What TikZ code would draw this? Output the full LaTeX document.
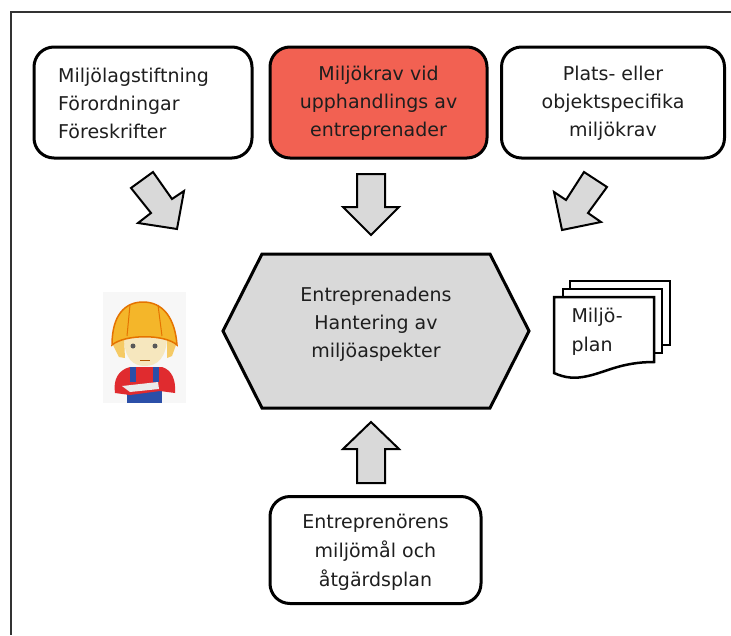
\documentclass[tikz,border=0pt]{standalone}
\usepackage{fontspec}
\setmainfont{DejaVu Sans}
\definecolor{kravred}{HTML}{F26152}
\definecolor{blockgray}{HTML}{D9D9D9}
\definecolor{inktext}{HTML}{1E1E1E}
\definecolor{helmet}{HTML}{F4B62A}
\definecolor{skin}{HTML}{F6E7BE}
\definecolor{shirt}{HTML}{E02B2F}
\definecolor{denim}{HTML}{2B4FA8}
\tikzset{
  kravbox/.style={draw=black,line width=3pt,rounded corners=20pt,minimum height=111pt},
  kravtext/.style={text=inktext,font=\fontsize{19}{28}\selectfont,align=center},
  blockarrow/.style={draw=black,line width=2pt,fill=blockgray,line join=miter},
  plantext/.style={text=inktext,font=\fontsize{19}{29.5}\selectfont,align=left,anchor=west},
  sheet/.style={draw=black,line width=2.5pt,fill=white}
}
\begin{document}
\begin{tikzpicture}[x=1pt,y=-1pt]
  \useasboundingbox (0,0) rectangle (731,635);
  % frame, only top and left
  \draw[line width=1.5pt,black!80] (731,12) -- (11,12) -- (11,635);
  % boxes
  \node[kravbox,minimum width=218pt] (lagar) at (143,102.5) {};
  \node[plantext,font=\fontsize{19}{28}\selectfont] (lagartext) at (54.7,103.5) {Miljölagstiftning\\Förordningar\\Föreskrifter};
  \node[kravbox,fill=kravred,minimum width=217pt] (upphandling) at (378.5,102.5) {};
  \node[kravtext] (upphandlingtext) at (378.5,103.5) {Miljökrav vid\\upphandlings av\\entreprenader};
  \node[kravbox,minimum width=223pt] (platskrav) at (613,102.5) {};
  \node[kravtext] (platskravtext) at (613,103.5) {Plats- eller\\objektspecifika\\miljökrav};
  \node[kravbox,minimum width=211pt,minimum height=107pt] (egenmal) at (375.5,550) {};
  \node[kravtext,font=\fontsize{19}{29}\selectfont] (egenmaltext) at (375.5,552.5) {Entreprenörens\\miljömål och\\åtgärdsplan};
  % hexagon
  \draw[line width=3pt,fill=blockgray,line join=miter] (262,254) -- (490,254) -- (529,331) -- (490,408) -- (262,408) -- (223,331) -- cycle;
  \node[kravtext] (hantering) at (376,324.5) {Entreprenadens\\Hantering av\\miljöaspekter};
  % block arrows
  \draw[blockarrow] (153,172) -- (131,188) -- (151,213) -- (138,223) -- (177,229) -- (184,191) -- (172,199) -- cycle;
  \draw[blockarrow] (357,174) -- (385,174) -- (385,207) -- (399,207) -- (371,235) -- (343,207) -- (357,207) -- cycle;
  \draw[blockarrow] (584,172) -- (607,187) -- (588,213) -- (601,222) -- (562,230) -- (554,192) -- (566,200) -- cycle;
  \draw[blockarrow] (357,483) -- (385,483) -- (385,449) -- (399,449) -- (371,422) -- (343,449) -- (357,449) -- cycle;
  % document stack
  \draw[sheet] (570,281) rectangle (670,345);
  \draw[sheet] (563,289) rectangle (662,353);
  \draw[sheet] (554,297) -- (654,297) -- (654,362) .. controls (622,362) and (606,372) .. (588,376) .. controls (575,379) and (565,378) .. (554,373) -- cycle;
  \node[plantext] (miljoplan) at (568,332) {Miljö-\\plan};
  % worker
  \fill[black!3] (103,292) rectangle (186,403);
  \fill[denim] (127,388) rectangle (162,403);
  \fill[shirt] (115,393) .. controls (113,380) and (118,370) .. (130,367) -- (162,367) .. controls (172,370) and (176,380) .. (175,393) -- (160,391) -- (130,395) -- cycle;
  \fill[denim] (130,367) rectangle (136,382);
  \fill[denim] (153,367) rectangle (159,382);
  \fill[black!8] (122,386) -- (158,382) -- (159,389) -- (130,392) -- cycle;
  \fill[skin] (124,336) .. controls (124,360) and (134,366) .. (145,366) .. controls (157,366) and (167,358) .. (167,336) -- cycle;
  \fill[helmet!60!skin] (113,345) -- (124,338) -- (125,358) -- (119,357) -- cycle;
  \fill[helmet!60!skin] (176,345) -- (167,338) -- (167,358) -- (172,356) -- cycle;
  \fill[helmet,draw=orange!90!black,line width=1.5pt] (112,345) .. controls (112,315) and (125,302) .. (143,302) .. controls (163,302) and (175,318) .. (177,345) .. controls (165,334) and (125,334) .. (112,345) -- cycle;
  \draw[orange!90!black,line width=1pt] (130,305) -- (127,336);
  \draw[orange!90!black,line width=1pt] (158,305) -- (162,336);
  \fill[gray!70!black] (133,346) circle (2.5pt);
  \fill[gray!70!black] (155,346) circle (2.5pt);
  \draw[orange!70!black,line width=1pt] (140,360) -- (150,360);
\end{tikzpicture}
\end{document}
